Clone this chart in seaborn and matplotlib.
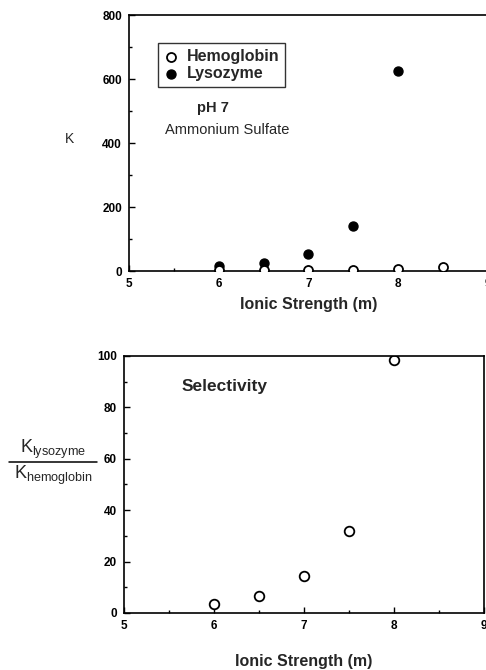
import matplotlib
matplotlib.use('Agg')
import matplotlib.pyplot as plt
import pandas as pd
import seaborn as sns
from matplotlib.lines import Line2D
from matplotlib.ticker import MultipleLocator

# data
ionic_hb = [6.0, 6.5, 7.0, 7.5, 8.0, 8.5]
k_hemoglobin = [2, 3, 3, 3, 6, 12]
ionic_lys = [6.0, 6.5, 7.0, 7.5, 8.0]
k_lysozyme = [15, 26, 52, 142, 624]
ionic_sel = [6.0, 6.5, 7.0, 7.5, 8.0]
selectivity = [3.6, 6.6, 14.4, 32, 98.4]

df_hb = pd.DataFrame({'ionic': ionic_hb, 'K': k_hemoglobin})
df_lys = pd.DataFrame({'ionic': ionic_lys, 'K': k_lysozyme})
df_sel = pd.DataFrame({'ionic': ionic_sel, 'sel': selectivity})

sns.set_style('white')
plt.rcParams['font.family'] = ['Liberation Sans', 'DejaVu Sans']
plt.rcParams['mathtext.fontset'] = 'custom'
plt.rcParams['mathtext.rm'] = 'Liberation Sans'
plt.rcParams['mathtext.it'] = 'Liberation Sans'

fig = plt.figure(figsize=(4.86, 6.7), dpi=100)
ax1 = fig.add_axes([0.2654, 0.5955, 0.7386, 0.382])
ax2 = fig.add_axes([0.255, 0.0851, 0.741, 0.3836])


def style_axes(ax):
    for s in ax.spines.values():
        s.set_color('black')
        s.set_linewidth(1.2)
    ax.tick_params(which='both', direction='in', left=True, bottom=True,
                   labelsize=8.5, colors='black')
    ax.tick_params(which='major', length=4, width=1, pad=5)
    ax.tick_params(which='minor', length=2.5, width=1)
    for lbl in ax.get_xticklabels() + ax.get_yticklabels():
        lbl.set_fontweight('bold')
    ax.set_xlim(5, 9)
    ax.xaxis.set_major_locator(MultipleLocator(1))
    ax.xaxis.set_minor_locator(MultipleLocator(0.5))


# top panel
sns.scatterplot(data=df_hb, x='ionic', y='K', ax=ax1, marker='o', s=42,
                facecolor='white', edgecolor='black', linewidth=1.3,
                label='Hemoglobin', zorder=3)
sns.scatterplot(data=df_lys, x='ionic', y='K', ax=ax1, marker='o', s=42,
                color='black', edgecolor='black', linewidth=1,
                label='Lysozyme', zorder=2)
ax1.set_ylim(0, 800)
ax1.yaxis.set_major_locator(MultipleLocator(200))
ax1.yaxis.set_minor_locator(MultipleLocator(100))
style_axes(ax1)
ax1.set_xlabel('Ionic Strength (m)', fontsize=11.5, fontweight='bold', labelpad=5)
ax1.set_ylabel('K', fontsize=10, rotation=0)
ax1.yaxis.set_label_coords(-0.165, 0.49)
leg = ax1.legend(loc='upper left', bbox_to_anchor=(0.08, 0.89), frameon=True,
                 fancybox=False, edgecolor='black',
                 handletextpad=0.5, borderpad=0.35, labelspacing=0.15,
                 handlelength=1.0, borderaxespad=0,
                 prop={'weight': 'bold', 'size': 11.5})
leg.get_frame().set_linewidth(1)
ax1.text(0.234, 0.637, 'pH 7', transform=ax1.transAxes, ha='center',
         va='center', fontsize=10.5, fontweight='bold')
ax1.text(0.273, 0.551, 'Ammonium Sulfate', transform=ax1.transAxes,
         ha='center', va='center', fontsize=10.5)

# bottom panel
sns.scatterplot(data=df_sel, x='ionic', y='sel', ax=ax2, marker='o', s=48,
                facecolor='white', edgecolor='black', linewidth=1.3)
ax2.set_ylim(0, 100)
ax2.yaxis.set_major_locator(MultipleLocator(20))
ax2.yaxis.set_minor_locator(MultipleLocator(10))
style_axes(ax2)
ax2.set_xlabel('Ionic Strength (m)', fontsize=11.5, fontweight='bold', labelpad=16)
ax2.set_ylabel('')
ax2.text(0.28, 0.883, 'Selectivity', transform=ax2.transAxes, ha='center',
         va='center', fontsize=12.5, fontweight='bold')

# y label of the lower panel: K_lysozyme over K_hemoglobin
fig.text(0.109, 0.3115, r'$\mathrm{K}_{\mathrm{lysozyme}}$', ha='center',
         va='bottom', fontsize=13)
fig.text(0.109, 0.3075, r'$\mathrm{K}_{\mathrm{hemoglobin}}$', ha='center',
         va='top', fontsize=13)
fig.add_artist(Line2D([0.019, 0.199], [0.3104, 0.3104], color='black',
                      linewidth=1.1, transform=fig.transFigure))

fig.savefig('out.png', dpi=100)
